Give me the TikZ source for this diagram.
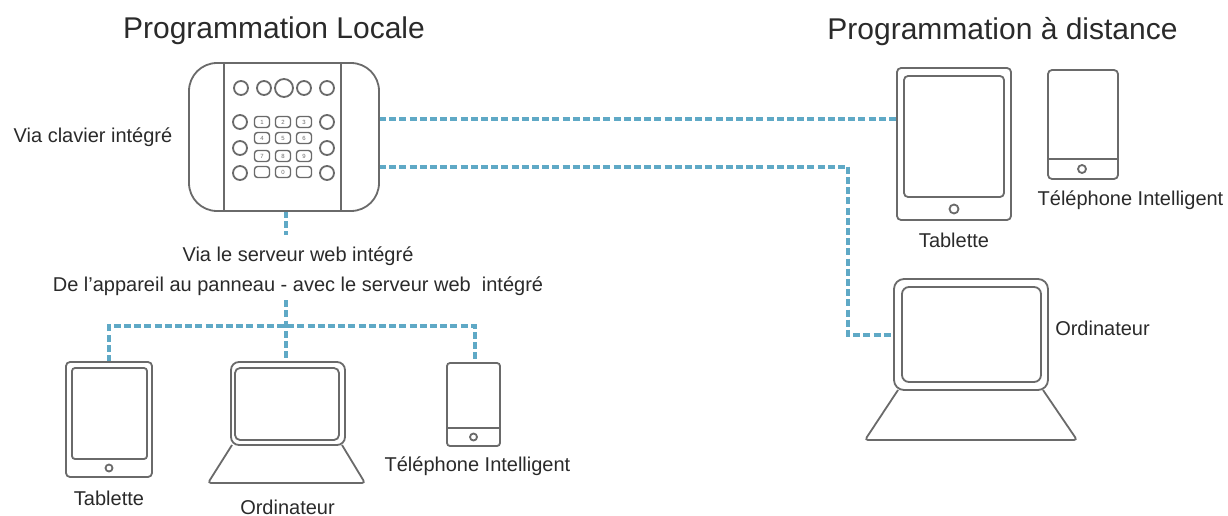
\documentclass[tikz,border=0pt]{standalone}
\usepackage{fontspec}
\setmainfont{Liberation Sans}
\usetikzlibrary{backgrounds}
\definecolor{linegrey}{HTML}{6A6A6A}
\definecolor{linkblue}{HTML}{5FA9C6}
\definecolor{txt}{HTML}{2A2A2A}
\tikzset{
  part/.style={draw=linegrey,line width=1.8pt,inner sep=0pt,outer sep=0pt,fill=white},
  box/.style args={#1x#2r#3}{part,rectangle,rounded corners=#3pt,minimum width=#1pt,minimum height=#2pt},
  dot/.style={part,circle,minimum size=#1pt},
  keycap/.style={part,rectangle,rounded corners=3pt,minimum width=15pt,minimum height=11pt,text=linegrey,font=\fontsize{6}{6}\selectfont,line width=1.4pt},
  link/.style={draw=linkblue,line width=4pt,dash pattern=on 7pt off 3.2pt},
  title/.style={font=\fontsize{30}{30}\selectfont,text=txt,inner sep=0pt},
  label/.style={font=\fontsize{20}{20}\selectfont,text=txt,inner sep=0pt},
}
\begin{document}
\begin{tikzpicture}[x=1pt,y=-1pt]
\useasboundingbox (0,0) rectangle (1228,516);

% keypad
\node[box=190x148r28] (pad) at (284,137) {};
\draw[linegrey,line width=2.2pt] (224,63) -- (224,211) (341,63) -- (341,211);
\foreach \n/\x/\y/\s in {a/241/88/14,b/264/88/14,c/284/88/18,d/304/88/14,e/327/88/14,
  f/240/122/14,g/327/122/14,h/240/148/14,i/327/148/14,j/240/173/14,k/327/173/14}
  \node[dot=\s] (c\n) at (\x,\y) {};
\foreach \t/\x/\y in {1/262/122,2/283/122,3/304/122,4/262/138,5/283/138,6/304/138,7/262/156,8/283/156,9/304/156,0/283/172}
  \node[keycap] (k\t) at (\x,\y) {\t};
\node[keycap] (kl) at (262,172) {};
\node[keycap] (kr) at (304,172) {};

% right tablet
\node[box=114x152r4] (rtab) at (954,144) {};
\node[box=100x121r4] (rtabs) at (954,136.5) {};
\node[dot=9] (rtabb) at (954,209) {};
% right phone
\node[box=70x109r4] (rph) at (1083,124.5) {};
\draw[linegrey,line width=1.8pt] (1048,159) -- (1118,159);
\node[dot=8] (rphb) at (1082,169) {};
% right laptop
\draw[part,rounded corners=3pt] (898,390) -- (865,440) -- (1077,440) -- (1043,390);
\node[box=154x111r10] (rlap) at (971,334.5) {};
\node[box=139x95r7] (rlaps) at (971.5,334.5) {};

% left tablet
\node[box=86x115r4] (ltab) at (109,419.5) {};
\node[box=75x91r3] (ltabs) at (109.5,413.5) {};
\node[dot=7] (ltabb) at (109,468) {};
% left laptop
\draw[part,rounded corners=3pt] (232,445) -- (208,483) -- (365,483) -- (342,445);
\node[box=114x83r8] (llap) at (288,403.5) {};
\node[box=104x72r5] (llaps) at (287,404) {};
% left phone
\node[box=53x83r3] (lph) at (473.5,404.5) {};
\draw[linegrey,line width=1.8pt] (447,428) -- (500,428);
\node[dot=7] (lphb) at (473.5,437) {};

% texts
\node[title] (t1) at (274,31) {Programmation Locale};
\node[title] (t2) at (1002.5,32) {Programmation à distance};
\node[label] (lclav) at (93,137) {Via clavier intégré};
\node[label,anchor=base,outer ysep=11pt] (lweb) at (298,261) {Via le serveur web intégré};
\node[label,anchor=base,outer ysep=5pt] (ldev) at (298,291) {De l’appareil au panneau - avec le serveur web\ \ intégré};
\node[label] (ltt) at (109,498) {Tablette};
\node[label] (lto) at (287.5,507) {Ordinateur};
\node[label] (ltp) at (477.5,466) {Téléphone Intelligent};
\node[label] (rtt) at (954,240) {Tablette};
\node[label] (rtp) at (1130.5,200) {Téléphone Intelligent};
\node[label] (rto) at (1102.5,328) {Ordinateur};

% junction and bends
\coordinate (jl) at (109,326);
\coordinate (jr) at (475,326);
\coordinate (jm) at (286,326);
\coordinate (rb1) at (848,166.5);
\coordinate (rb2) at (848,335);

\begin{scope}[on background layer]
\draw[link] (pad.south -| jm) -- (lweb.north -| jm);
\draw[link] (ldev.south -| jm) -- (llap.north -| jm);
\draw[link] (ltab.north -| jl) -- (jl) -- (jr) -- (jr |- lph.north);
\draw[link] (pad.east |- 0,119) -- (rtab.west |- 0,119);
\draw[link] (pad.east |- rb1) -- (rb1) -- (rb2) -- (rlap.west |- rb2);
\end{scope}
\end{tikzpicture}
\end{document}
